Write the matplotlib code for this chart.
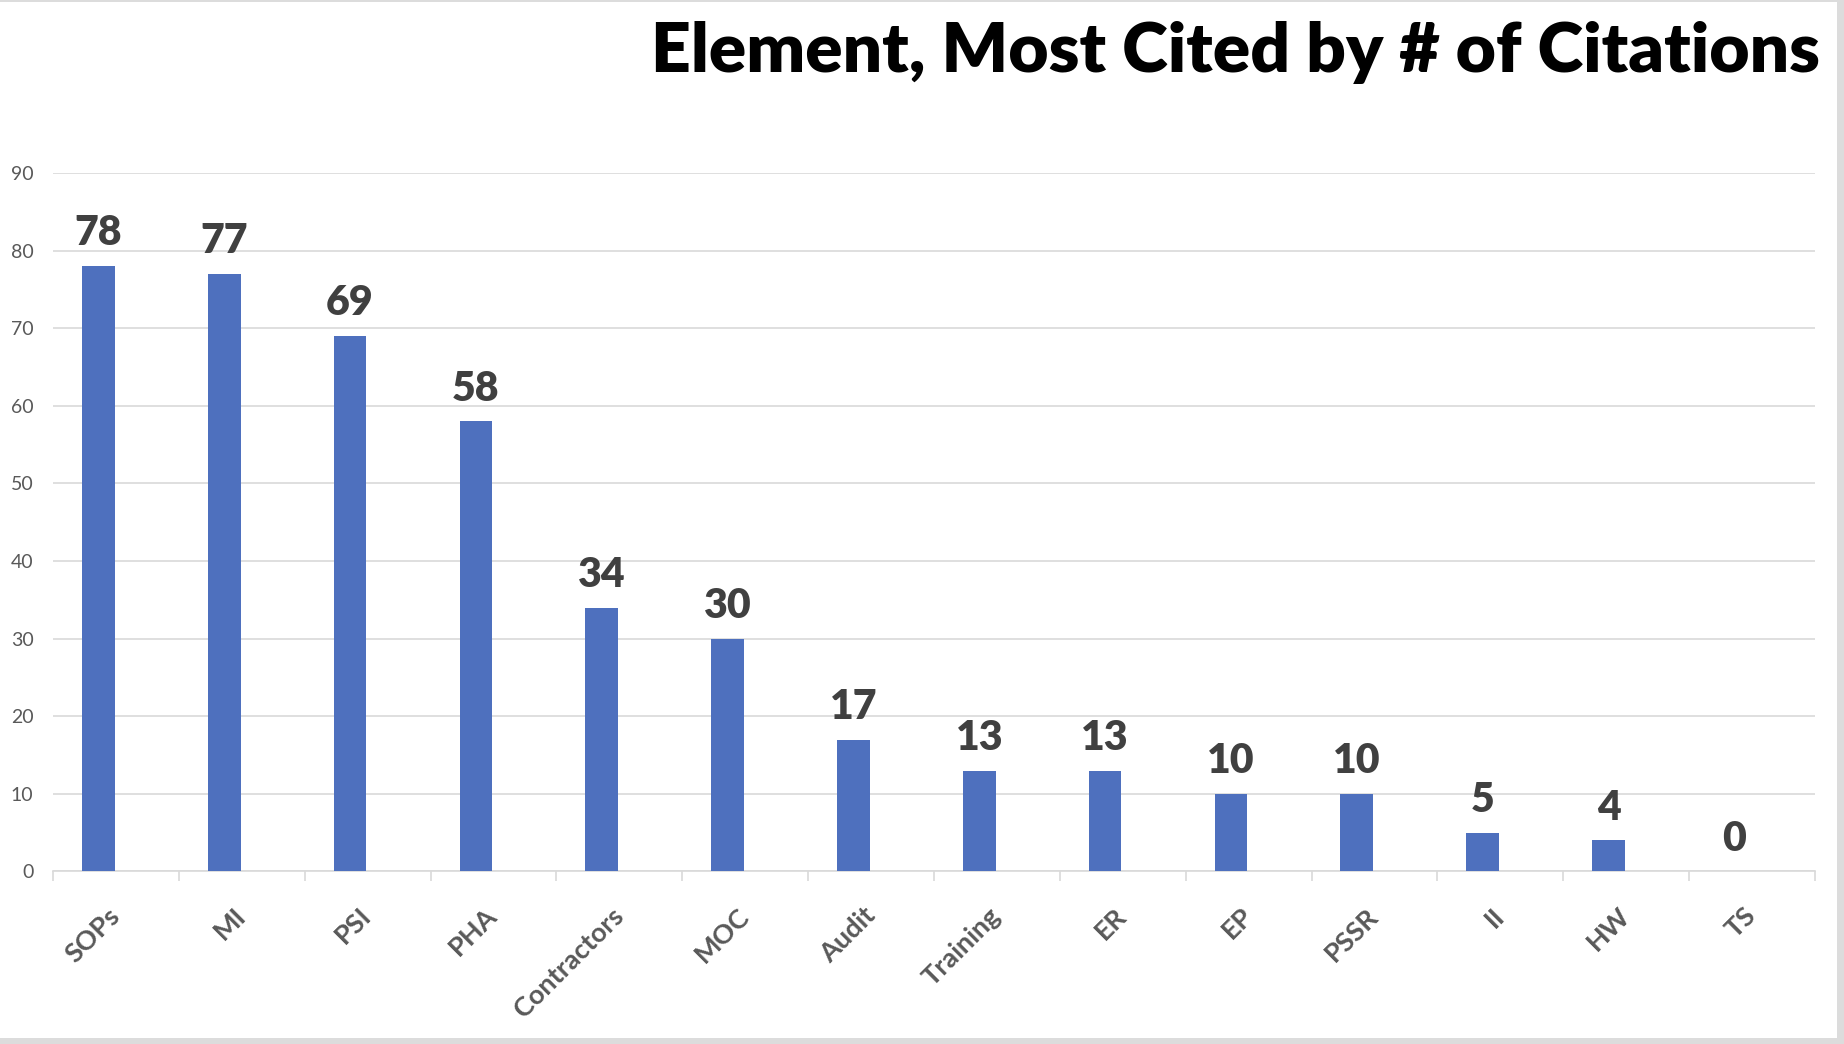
import matplotlib
matplotlib.use("Agg")
import matplotlib.pyplot as plt
from matplotlib.patches import Rectangle
from matplotlib.ticker import FixedLocator

# data
elements = ["SOPs", "MI", "PSI", "PHA", "Contractors", "MOC", "Audit",
            "Training", "ER", "EP", "PSSR", "II", "HW", "TS"]
citations = [78, 77, 69, 58, 34, 30, 17, 13, 13, 10, 10, 5, 4, 0]
yticks = [0, 10, 20, 30, 40, 50, 60, 70, 80, 90]

bar_col = "#4e70be"
grid_col = "#d9d9d9"
txt_col = "#595959"

plt.rcParams["font.family"] = ["Lato", "DejaVu Sans"]

fig = plt.figure(figsize=(18.44, 10.44), dpi=100, facecolor="#dcdcdc")
# white slide area with a thin grey frame on top/right/bottom
fig.patches.append(Rectangle((0, 6 / 1044), 1837 / 1844, 1 - 8 / 1044,
                             transform=fig.transFigure, facecolor="white",
                             edgecolor="none", zorder=-10))

ax = fig.add_axes([0.02874, 0.16523, 0.9555, 0.66906])
ax.set_facecolor("none")

pos = list(range(len(elements)))
bar_x = [p - 0.14 for p in pos]
bars = ax.bar(bar_x, citations, width=0.26, color=bar_col, zorder=3)

for bx, v in zip(bar_x, citations):
    ax.annotate(str(v), (bx, v), xytext=(0, 15), textcoords="offset points",
                ha="center", va="baseline", fontsize=29.5, fontweight="heavy",
                color="#404040")

ax.set_xlim(-0.5, len(elements) - 0.5)
ax.set_ylim(0, 90)
ax.set_yticks(yticks)
ax.yaxis.grid(True, color=grid_col, linewidth=1.2, zorder=0)
ax.tick_params(axis="y", length=0, pad=14, labelsize=14, labelcolor=txt_col)

ax.set_xticks(pos)
ax.set_xticklabels(elements, rotation=45, ha="right", va="center",
                   rotation_mode="anchor", fontsize=19.5, fontweight="bold",
                   color=txt_col)
ax.tick_params(axis="x", which="major", length=0, pad=29)
ax.xaxis.set_minor_locator(FixedLocator([p - 0.5 for p in pos] + [len(elements) - 0.5]))
ax.tick_params(axis="x", which="minor", length=7.5, width=1.2, color=grid_col)

for s in ["top", "right", "left"]:
    ax.spines[s].set_visible(False)
ax.spines["bottom"].set_color(grid_col)
ax.spines["bottom"].set_linewidth(1.2)

fig.text(0.987, 0.931, "Element, Most Cited by # of Citations", ha="right",
         va="baseline", fontsize=50, fontweight="heavy", color="black")

fig.savefig("out.png", dpi=100, facecolor=fig.get_facecolor())
